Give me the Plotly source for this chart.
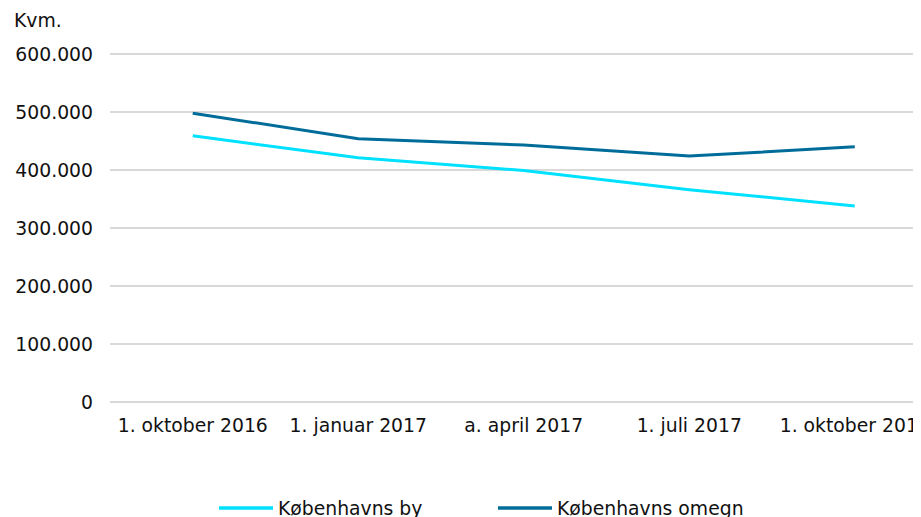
import plotly.graph_objects as go

categories = ["1. oktober 2016", "1. januar 2017", "a. april 2017", "1. juli 2017", "1. oktober 2017"]
kbh_by = [459000, 421000, 399000, 366000, 338000]
kbh_omegn = [498000, 454000, 443000, 424000, 440000]
y_ticks = [0, 100000, 200000, 300000, 400000, 500000, 600000]
series_names = ["Københavns by", "Københavns omegn"]
series_colors = ["#00E1FF", "#006C99"]

FONT = "DejaVu Sans"
FS = 18.8

# The page body has an 8px margin, so the figure is sized/offset to compensate.
OFF = 8
W, H = 921 - OFF, 517 - OFF
L, T, B = 102, 43, 112
PW, PH = W - L, H - T - B
PAD = 5172  # keeps the 0 and 600.000 grid lines just inside the plot area
CAT_SPACING = 165.5


def px(sx):
    return (sx - OFF - L) / PW


def py(sy):
    return (T + PH - (sy - OFF)) / PH


fig = go.Figure()
for name, vals, col in zip(series_names, [kbh_by, kbh_omegn], series_colors):
    fig.add_trace(go.Scatter(x=categories, y=vals, mode="lines", name=name,
                             line=dict(color=col, width=3)))

shapes = []
annotations = [dict(text="Kvm.", xref="paper", yref="paper", x=px(12), y=py(20),
                    xanchor="left", yanchor="middle", showarrow=False,
                    font=dict(size=FS))]
legend_x = [219, 498]
for lx, name, col in zip(legend_x, series_names, series_colors):
    shapes.append(dict(type="line", xref="paper", yref="paper",
                       x0=px(lx), x1=px(lx + 54), y0=py(508), y1=py(508),
                       line=dict(color=col, width=3.5)))
    annotations.append(dict(text=name, xref="paper", yref="paper",
                            x=px(lx + 57), y=py(508), xanchor="left", yanchor="middle",
                            showarrow=False, font=dict(size=FS)))

fig.update_layout(
    width=W, height=H,
    margin=dict(l=L, r=0, t=T, b=B, autoexpand=False),
    paper_bgcolor="white", plot_bgcolor="white",
    separators=",.",
    font=dict(family=FONT, size=FS, color="#111111"),
    showlegend=False,
    shapes=shapes,
    annotations=annotations,
)

fig.update_xaxes(type="category", range=[-0.5, -0.5 + PW / CAT_SPACING], showgrid=False,
                 showline=False, zeroline=False, ticks="", ticklabelstandoff=7,
                 automargin=False, tickfont=dict(size=FS, family=FONT))
fig.update_yaxes(range=[-PAD, 600000 + PAD], tickvals=y_ticks, tickformat=",d",
                 showgrid=True, gridcolor="#D9D9D9", gridwidth=1.5,
                 zeroline=False, showline=False, ticks="", ticklabelstandoff=16,
                 automargin=False, tickfont=dict(size=FS, family=FONT))

fig.write_html("out.html")
